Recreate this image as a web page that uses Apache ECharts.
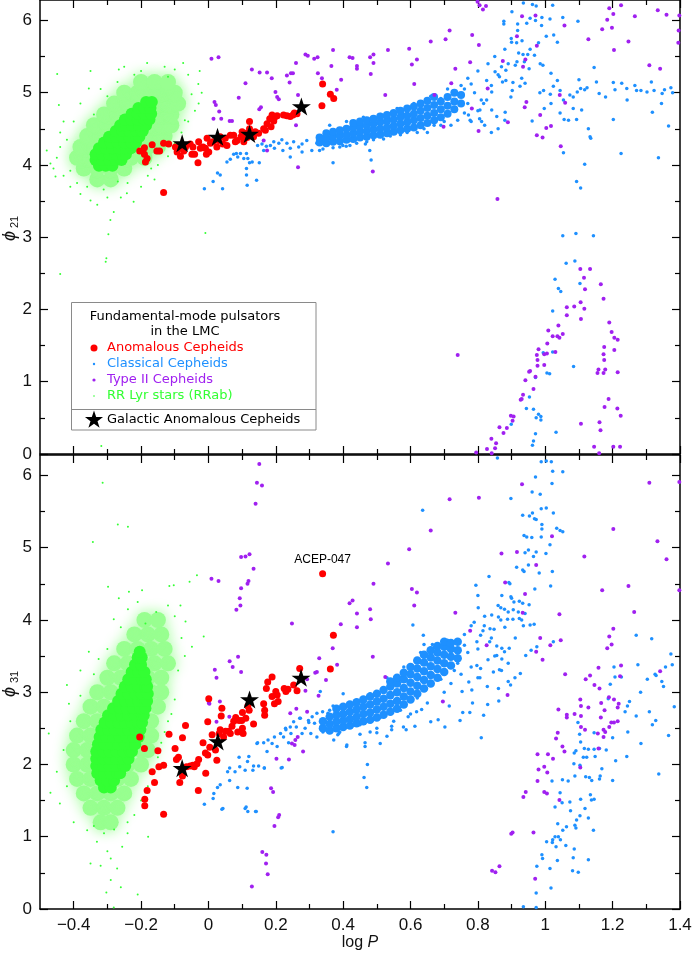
<!DOCTYPE html>
<html>
<head>
    <meta charset="utf-8">
    <script src="https://cdn.jsdelivr.net/npm/echarts@6/dist/echarts.min.js"></script>
    <style>html,body{margin:0;padding:0;background:#fff;}</style>
</head>
<body>
<div id="main" style="width:692px;height:953px;"></div>
<script type="text/javascript">
// tick positions
var xMajor = [-0.4, -0.2, 0, 0.2, 0.4, 0.6, 0.8, 1, 1.2, 1.4];
var xMinor = [-0.3, -0.1, 0.1, 0.3, 0.5, 0.7, 0.9, 1.1, 1.3];
var yMajor = [0, 1, 2, 3, 4, 5, 6];
var yMinor = [0.5, 1.5, 2.5, 3.5, 4.5, 5.5];

// ---------- upper panel: phi21 ----------
// RR Lyr (RRab): dense core, crowded fringe, scattered stars
var rrTopCore = [
 [-0.325,3.99],[-0.305,3.99],[-0.285,3.99],
 [-0.335,4.07],[-0.315,4.07],[-0.295,4.07],[-0.275,4.07],[-0.258,4.07],
 [-0.335,4.15],[-0.315,4.15],[-0.295,4.15],[-0.275,4.15],[-0.255,4.15],[-0.245,4.15],
 [-0.325,4.23],[-0.305,4.23],[-0.285,4.23],[-0.265,4.23],[-0.245,4.23],[-0.23,4.23],
 [-0.31,4.31],[-0.29,4.31],[-0.27,4.31],[-0.25,4.31],[-0.23,4.31],[-0.215,4.31],
 [-0.295,4.39],[-0.275,4.39],[-0.255,4.39],[-0.235,4.39],[-0.215,4.39],[-0.205,4.39],
 [-0.275,4.47],[-0.255,4.47],[-0.235,4.47],[-0.215,4.47],[-0.2,4.47],[-0.195,4.47],
 [-0.262,4.55],[-0.245,4.55],[-0.225,4.55],[-0.205,4.55],[-0.185,4.55],
 [-0.248,4.63],[-0.23,4.63],[-0.21,4.63],[-0.19,4.63],[-0.175,4.63],
 [-0.228,4.71],[-0.21,4.71],[-0.19,4.71],[-0.17,4.71],
 [-0.208,4.79],[-0.19,4.79],[-0.172,4.79],
 [-0.185,4.87],[-0.168,4.87]
];
var rrTopHalo = [
 [-0.33,3.8],[-0.29,3.8],
 [-0.37,3.95],[-0.33,3.95],[-0.29,3.95],[-0.25,3.95],
 [-0.39,4.1],[-0.35,4.1],[-0.31,4.1],[-0.27,4.1],[-0.23,4.1],[-0.19,4.1],
 [-0.38,4.25],[-0.34,4.25],[-0.30,4.25],[-0.26,4.25],[-0.22,4.25],[-0.18,4.25],[-0.15,4.25],
 [-0.36,4.4],[-0.32,4.4],[-0.28,4.4],[-0.24,4.4],[-0.20,4.4],[-0.16,4.4],[-0.13,4.4],
 [-0.34,4.55],[-0.30,4.55],[-0.26,4.55],[-0.22,4.55],[-0.18,4.55],[-0.14,4.55],[-0.11,4.55],
 [-0.31,4.7],[-0.27,4.7],[-0.23,4.7],[-0.19,4.7],[-0.15,4.7],[-0.11,4.7],
 [-0.28,4.85],[-0.24,4.85],[-0.20,4.85],[-0.16,4.85],[-0.12,4.85],[-0.09,4.85],
 [-0.25,5.0],[-0.21,5.0],[-0.17,5.0],[-0.13,5.0],[-0.10,5.0],
 [-0.20,5.15],[-0.16,5.15],[-0.12,5.15]
];
var rrTopSparse = [
 [-0.449,5.26],[-0.444,4.83],[-0.355,5.06],[-0.266,5.32],[-0.026,5.30],[-0.029,4.85],[-0.182,5.41],[-0.075,5.41],
 [-0.469,4.02],[-0.454,3.84],[-0.242,3.61],[-0.281,3.35],[-0.291,3.24],[-0.350,3.51],[-0.222,3.49],[-0.311,3.66],
 [-0.269,3.77],[-0.45,4.1],[-0.44,4.25],[-0.43,3.85],[-0.46,3.95],[-0.41,3.7],[-0.38,3.6],[-0.33,3.45],
 [-0.30,3.55],[-0.2,3.7],[-0.18,3.85],[-0.15,4.0],[-0.12,4.12],[-0.1,4.3],[-0.06,4.6],[-0.04,4.75],
 [-0.02,5.0],[-0.03,5.12],[-0.06,5.25],[-0.1,5.32],[-0.13,5.36],[-0.22,5.25],[-0.27,5.15],[-0.32,5.05],
 [-0.38,4.85],[-0.4,4.6],[-0.44,4.45],[-0.48,4.2],[-0.35,5.3],[-0.25,5.36],[-0.44,2.49],[-0.305,2.66],
 [-0.303,2.71],[-0.297,3.04],[-0.009,3.06],[-0.318,0.11],[-0.39,3.75],[-0.26,3.55],[-0.16,3.8],[-0.08,4.45],
 [-0.42,4.35],[-0.41,3.92],[-0.36,3.7],[-0.34,4.7],[-0.3,4.95],[-0.24,3.75],[-0.17,3.95],[-0.07,4.62],
 [-0.05,4.98],[-0.12,5.22],[-0.2,5.3],[-0.43,4.6]
];
// Classical Cepheids: dense band, then scattered stars
var cepTopCore = [
 [0.33,4.31],[0.33,4.38],
 [0.35,4.30],[0.35,4.37],[0.35,4.44],
 [0.37,4.32],[0.37,4.39],[0.37,4.46],
 [0.39,4.33],[0.39,4.41],[0.39,4.48],
 [0.41,4.35],[0.41,4.42],[0.41,4.50],
 [0.43,4.36],[0.43,4.44],[0.43,4.52],[0.43,4.58],
 [0.45,4.38],[0.45,4.46],[0.45,4.54],[0.45,4.60],
 [0.47,4.39],[0.47,4.47],[0.47,4.55],[0.47,4.62],
 [0.49,4.41],[0.49,4.49],[0.49,4.57],[0.49,4.64],
 [0.51,4.42],[0.51,4.50],[0.51,4.59],[0.51,4.67],
 [0.53,4.44],[0.53,4.52],[0.53,4.61],[0.53,4.69],
 [0.55,4.46],[0.55,4.54],[0.55,4.63],[0.55,4.72],
 [0.57,4.48],[0.57,4.57],[0.57,4.66],[0.57,4.75],
 [0.59,4.50],[0.59,4.59],[0.59,4.68],[0.59,4.78],
 [0.61,4.52],[0.61,4.62],[0.61,4.71],[0.61,4.81],
 [0.63,4.55],[0.63,4.65],[0.63,4.75],[0.63,4.85],
 [0.65,4.58],[0.65,4.68],[0.65,4.79],[0.65,4.89],
 [0.67,4.62],[0.67,4.72],[0.67,4.83],[0.67,4.94],
 [0.69,4.66],[0.69,4.77],[0.69,4.88],
 [0.71,4.71],[0.71,4.82],[0.71,4.94],
 [0.73,4.77],[0.73,4.88],[0.73,5.00],
 [0.75,4.85],[0.75,4.97]
];
var cepTop = [
 [-0.012,3.67],[0.014,3.77],[0.027,3.89],[0.035,3.86],[0.042,3.67],[0.055,4.04],[0.065,4.08],[0.075,4.15],
 [0.083,4.16],[0.087,4.11],[0.095,4.16],[0.105,4.09],[0.113,4.16],[0.117,4.09],[0.122,4.03],[0.113,3.95],
 [0.113,3.86],[0.115,3.72],[0.130,4.04],[0.143,3.79],[0.151,4.03],[0.146,4.27],[0.164,4.20],[0.172,4.26],
 [0.184,4.27],[0.196,4.23],[0.209,4.30],[0.221,4.20],[0.233,4.30],[0.243,4.23],[0.253,4.32],[0.268,4.25],
 [0.278,4.29],[0.292,4.34],[0.307,4.20],[0.322,4.30],[0.370,4.03],[0.332,4.37],[0.347,4.41],[0.362,4.39],
 [0.243,4.11],[0.218,4.35],[0.278,4.18],[0.194,4.32],[0.159,4.29],[0.483,4.07],[0.479,4.20],[0.409,4.26],
 [0.399,4.27],[0.466,4.29],
 [0.34,4.22],[0.36,4.55],[0.39,4.25],[0.41,4.6],[0.44,4.3],[0.46,4.66],[0.49,4.35],[0.51,4.7],
 [0.54,4.4],[0.56,4.78],[0.59,4.45],[0.61,4.85],[0.64,4.5],[0.66,4.95],[0.69,4.55],[0.71,5.05],
 [0.74,4.62],[0.75,5.1],[0.77,4.85],[0.77,5.2],[0.79,5.0],[0.80,5.3],[0.81,4.9],[0.83,5.4],
 [0.84,5.1],[0.85,5.5],[0.86,5.25],[0.88,5.6],[0.89,5.4],[0.9,5.7],[0.76,4.72],[0.78,4.6],
 [0.8,4.75],[0.82,4.55],[0.84,4.45],[0.86,4.5],[0.88,4.62],[0.72,4.55],[0.7,4.6],[0.67,4.55],
 [0.65,4.45],[0.62,4.45],[0.57,4.42],[0.52,4.36],[0.47,4.32],[0.42,4.27],[0.37,4.24],[0.33,4.2],
 [0.74,4.98],[0.76,5.05],[0.75,4.88],[0.73,4.75],[0.69,4.92],[0.78,5.12],[0.63,4.58],[0.58,4.7],
 [0.901,6.12],[0.877,5.99],[0.877,5.95],[0.918,5.95],[0.935,6.24],[0.962,6.22],[0.973,6.20],[0.971,6.00],
 [0.990,6.04],[1.022,6.21],[1.014,6.02],[1.052,6.04],[0.989,5.93],[1.097,5.99],[0.918,5.86],[0.945,5.96],
 [0.955,6.03],[0.931,5.72],[0.915,5.69],[0.899,5.75],[1.003,5.78],[1.025,5.80],[1.036,5.70],[0.980,5.69],
 [0.955,5.60],[0.934,5.53],[0.921,5.55],[0.916,5.43],[0.948,5.53],[0.968,5.52],[0.938,5.43],[0.952,5.33],
 [0.985,5.40],[0.993,5.38],[1.017,5.27],[1.145,5.35],[1.036,5.17],[1.024,5.09],[1.044,5.03],[1.073,4.97],
 [1.083,4.94],[1.095,5.01],[1.100,5.18],[1.105,5.06],[1.117,5.04],[1.124,5.07],[1.152,5.15],[1.160,4.99],
 [1.179,4.94],[1.202,5.14],[1.207,5.04],[1.227,5.13],[1.242,5.06],[1.243,4.90],[1.266,5.10],[1.271,5.03],
 [1.284,5.03],[1.302,5.01],[1.315,5.15],[1.323,5.03],[1.347,4.99],[1.354,5.04],[1.373,5.07],[1.378,5.00],
 [1.345,4.85],[1.318,4.73],[1.366,4.54],[1.336,4.10],[1.225,4.16],[1.202,4.63],[1.133,4.39],[1.135,4.37],
 [1.128,4.50],[1.108,4.76],[1.093,4.63],[1.069,4.62],[1.056,4.63],[1.044,4.72],[1.017,4.85],[0.997,4.78],
 [0.984,5.00],[0.961,4.61],[1.015,4.98],[0.995,5.03],[1.054,4.17],[1.117,4.01],[1.093,3.77],[1.105,3.68],
 [1.054,4.90],[1.083,4.78],
 [0.856,4.67],[0.841,4.76],[0.881,4.73],[0.898,4.94],[0.902,5.03],[0.873,5.15],[0.883,5.17],[0.841,5.01],
 [0.826,4.90],[0.806,4.76],[0.805,4.64],[0.817,4.85],[0.772,4.69],[0.777,4.62],[0.826,5.17],[0.930,5.20],
 [0.940,5.13],[0.925,5.09],[0.904,5.14],[0.864,5.22],[0.851,5.29],[0.870,5.36],[0.883,5.31],[0.911,5.38],
 [0.811,4.60],
 [1.052,3.02],[1.091,3.05],[1.143,3.02],[1.062,2.64],[1.088,2.67],[1.029,2.42],[1.039,2.29],[1.046,2.25],
 [1.103,2.36],[1.022,1.98],[0.994,1.40],[1.022,1.41],[1.005,1.12],[1.013,1.11],[0.971,1.06],[0.953,0.79],
 [0.944,0.63],[0.965,0.62],[0.973,0.50],[0.980,0.55],[0.987,0.52],[0.987,0.47],[1.032,0.30],[0.971,0.28],
 [0.965,0.18],[0.962,0.12],[0.899,0.41],[1.084,1.21]
];
// Type II Cepheids
var t2Top = [
 [0.009,5.47],[0.030,5.49],[0.018,4.87],[0.022,4.83],[0.032,4.74],[0.015,4.64],[0.038,4.64],[0.063,4.61],
 [0.070,4.61],[0.090,4.93],[0.110,5.13],[0.129,5.32],[0.152,5.28],[0.174,5.28],[0.188,5.20],[0.151,4.77],
 [0.156,4.80],[0.199,5.01],[0.204,4.94],[0.209,4.91],[0.233,5.24],[0.241,5.14],[0.245,5.27],[0.251,5.27],
 [0.260,5.41],[0.288,5.53],[0.295,5.51],[0.314,5.47],[0.324,5.49],[0.325,5.27],[0.337,5.20],[0.365,5.37],
 [0.370,5.59],[0.381,5.04],[0.394,5.18],[0.419,5.49],[0.266,4.97],[0.260,4.55],[0.266,3.97],[0.174,4.20],
 [0.164,4.34],
 [0.428,5.48],[0.441,5.37],[0.441,5.33],[0.480,5.49],[0.490,5.53],[0.490,5.41],[0.482,5.26],[0.533,5.59],
 [0.525,4.97],[0.488,3.91],[0.596,5.61],[0.604,5.39],[0.619,5.46],[0.611,5.12],[0.660,5.71],[0.704,5.74],
 [0.716,5.86],[0.733,5.33],[0.721,5.13],[0.671,4.97],[0.698,4.53],[0.777,5.42],[0.783,5.80],[0.803,5.66],
 [0.799,6.26],[0.805,6.21],[0.815,6.15],[0.824,6.20],[0.782,4.78],[0.802,4.47],[0.858,3.53],[0.889,4.59],
 [0.829,5.06],[0.874,5.44],[0.916,5.78],[0.931,6.06],[0.971,6.07],[0.975,5.65],[0.934,5.36],[0.941,5.46],
 [0.944,4.87],[0.939,4.80],[0.985,4.69],[1.003,4.51],[1.017,4.54],[0.975,4.41],[0.992,4.38],[1.046,4.26],
 [1.059,4.86],[1.043,4.97],[1.057,5.93],[1.128,5.74],[1.169,5.88],[1.184,6.01],[1.190,6.17],[1.202,6.09],
 [1.198,5.90],[1.225,6.21],[1.204,5.59],[1.247,5.71],[1.266,6.06],[1.309,5.38],[1.341,5.33],[1.334,6.14],
 [1.360,6.08],[1.398,6.07],[1.396,5.86],[1.395,5.69],
 [0.740,1.37],[1.104,2.56],[1.133,2.56],[1.115,2.44],[1.118,2.28],[1.165,2.35],[1.173,2.15],[1.064,2.03],
 [1.086,2.04],[1.105,2.10],[1.116,2.01],[1.106,1.87],[1.064,1.92],[1.039,1.78],[1.009,1.71],[1.022,1.63],
 [1.036,1.63],[1.042,1.61],[1.052,1.66],[1.006,1.53],[0.980,1.45],[0.975,1.37],[0.977,1.30],[0.997,1.38],
 [1.005,1.39],[1.030,1.41],[0.977,1.22],[0.997,1.23],[0.955,1.15],[0.952,1.14],[0.971,1.07],[0.941,1.02],
 [0.965,0.90],[0.934,0.82],[0.930,0.76],[0.927,0.75],[0.898,0.53],[0.906,0.52],[0.903,0.46],[0.886,0.36],
 [0.864,0.37],[0.876,0.29],[0.840,0.21],[0.854,0.15],[0.827,0.07],[0.841,0.01],[0.851,0.08],[0.795,0.02],
 [1.190,1.82],[1.197,1.69],[1.205,1.61],[1.215,1.58],[1.175,1.48],[1.205,1.44],[1.173,1.38],[1.175,1.30],
 [1.158,1.17],[1.155,1.12],[1.178,1.17],[1.173,1.12],[1.215,1.13],[1.188,0.76],[1.176,0.65],[1.214,0.63],
 [1.224,0.53],[1.161,0.44],[1.164,0.33],[1.106,0.42],[1.145,0.10],[1.160,0.01],[1.202,0.10],[1.222,0.10]
];
// Anomalous Cepheids (LMC)
var acepTop = [
 [-0.204,4.195],[-0.190,4.24],[-0.190,4.15],[-0.182,4.09],[-0.187,4.04],[-0.167,4.28],[-0.153,4.195],[-0.145,4.195],
 [-0.133,4.30],[-0.118,4.29],[-0.133,3.62],[-0.098,4.25],[-0.093,4.18],[-0.083,4.23],[-0.083,4.12],[-0.073,4.195],
 [-0.068,4.25],[-0.054,4.29],[-0.046,4.25],[-0.049,4.15],[-0.041,4.15],[-0.029,4.32],[-0.031,4.03],[-0.024,4.23],
 [-0.016,4.25],[-0.009,4.23],[-0.006,4.15],[0.001,4.18],[-0.004,4.37],[0.006,4.30],[0.013,4.32],[0.025,4.25],
 [0.030,4.34],[0.035,4.39],[0.043,4.29],[0.050,4.37],[0.055,4.27],[0.065,4.41],[0.075,4.41],[0.080,4.32],
 [0.085,4.34],[0.097,4.39],[0.100,4.46],[0.105,4.32],[0.110,4.44],[0.115,4.38],[0.122,4.60],[0.122,4.50],
 [0.134,4.39],[0.139,4.46],[0.149,4.44],[0.164,4.50],[0.169,4.48],[0.174,4.57],[0.182,4.64],[0.186,4.53],
 [0.189,4.69],[0.194,4.61],[0.199,4.67],[0.204,4.68],[0.223,4.69],[0.233,4.68],[0.243,4.67],[0.251,4.69],
 [0.255,4.72],[0.263,4.71],[0.337,4.82],[0.339,5.12],[0.362,4.98],[0.372,4.92]
];
// Galactic Anomalous Cepheids
var galTop = [[-0.078,4.30],[0.027,4.39],[0.122,4.43],[0.276,4.81]];

// ---------- lower panel: phi31 ----------
var rrBottomCore = [
 [-0.31,1.68],[-0.29,1.68],
 [-0.32,1.78],[-0.30,1.78],[-0.28,1.78],
 [-0.33,1.88],[-0.31,1.88],[-0.29,1.88],[-0.27,1.88],[-0.262,1.88],
 [-0.333,1.98],[-0.313,1.98],[-0.293,1.98],[-0.273,1.98],[-0.253,1.98],[-0.247,1.98],
 [-0.333,2.08],[-0.313,2.08],[-0.293,2.08],[-0.273,2.08],[-0.253,2.08],[-0.237,2.08],
 [-0.333,2.18],[-0.313,2.18],[-0.293,2.18],[-0.273,2.18],[-0.253,2.18],[-0.233,2.18],[-0.227,2.18],
 [-0.328,2.28],[-0.308,2.28],[-0.288,2.28],[-0.268,2.28],[-0.248,2.28],[-0.228,2.28],[-0.217,2.28],
 [-0.323,2.38],[-0.303,2.38],[-0.283,2.38],[-0.263,2.38],[-0.243,2.38],[-0.223,2.38],[-0.207,2.38],
 [-0.318,2.48],[-0.298,2.48],[-0.278,2.48],[-0.258,2.48],[-0.238,2.48],[-0.218,2.48],[-0.202,2.48],
 [-0.308,2.58],[-0.288,2.58],[-0.268,2.58],[-0.248,2.58],[-0.228,2.58],[-0.208,2.58],[-0.197,2.58],
 [-0.298,2.68],[-0.278,2.68],[-0.258,2.68],[-0.238,2.68],[-0.218,2.68],[-0.198,2.68],[-0.192,2.68],
 [-0.283,2.78],[-0.263,2.78],[-0.243,2.78],[-0.223,2.78],[-0.203,2.78],[-0.187,2.78],
 [-0.268,2.88],[-0.248,2.88],[-0.228,2.88],[-0.208,2.88],[-0.188,2.88],[-0.182,2.88],
 [-0.258,2.98],[-0.238,2.98],[-0.218,2.98],[-0.198,2.98],[-0.18,2.98],
 [-0.248,3.08],[-0.228,3.08],[-0.208,3.08],[-0.188,3.08],[-0.182,3.08],
 [-0.238,3.18],[-0.218,3.18],[-0.198,3.18],[-0.186,3.18],
 [-0.228,3.28],[-0.208,3.28],[-0.19,3.28],
 [-0.218,3.38],[-0.2,3.38],
 [-0.21,3.48],[-0.198,3.48],
 [-0.204,3.56]
];
var rrBottomHalo = [
 [-0.32,1.2],[-0.29,1.2],
 [-0.35,1.4],[-0.31,1.4],[-0.27,1.4],
 [-0.37,1.6],[-0.33,1.6],[-0.29,1.6],[-0.25,1.6],
 [-0.39,1.8],[-0.35,1.8],[-0.31,1.8],[-0.27,1.8],[-0.23,1.8],
 [-0.40,2.0],[-0.36,2.0],[-0.32,2.0],[-0.28,2.0],[-0.24,2.0],[-0.20,2.0],
 [-0.40,2.2],[-0.36,2.2],[-0.32,2.2],[-0.28,2.2],[-0.24,2.2],[-0.20,2.2],[-0.18,2.2],
 [-0.39,2.4],[-0.35,2.4],[-0.31,2.4],[-0.27,2.4],[-0.23,2.4],[-0.19,2.4],[-0.17,2.4],
 [-0.37,2.6],[-0.33,2.6],[-0.29,2.6],[-0.25,2.6],[-0.21,2.6],[-0.17,2.6],
 [-0.35,2.8],[-0.31,2.8],[-0.27,2.8],[-0.23,2.8],[-0.19,2.8],[-0.15,2.8],
 [-0.33,3.0],[-0.29,3.0],[-0.25,3.0],[-0.21,3.0],[-0.17,3.0],[-0.14,3.0],
 [-0.30,3.2],[-0.26,3.2],[-0.22,3.2],[-0.18,3.2],[-0.14,3.2],
 [-0.28,3.4],[-0.24,3.4],[-0.20,3.4],[-0.16,3.4],[-0.12,3.4],
 [-0.25,3.6],[-0.21,3.6],[-0.17,3.6],[-0.13,3.6],
 [-0.22,3.8],[-0.18,3.8],[-0.14,3.8],
 [-0.19,4.0],[-0.15,4.0]
];
var rrBottomSparse = [
 [-0.469,1.61],[-0.441,1.46],[-0.35,0.63],[-0.303,0.23],[-0.281,0.02],[-0.21,0.2],[-0.331,0.93],[-0.256,0.86],
 [-0.179,1.0],[-0.414,2.84],[-0.474,2.43],[-0.36,1.09],[-0.271,0.56],[-0.314,5.90],[-0.343,5.08],[-0.269,5.32],
 [-0.239,5.29],[-0.298,4.46],[-0.266,4.30],[-0.236,4.39],[-0.197,4.41],[-0.116,4.47],[-0.103,4.48],[-0.056,4.53],
 [-0.034,4.62],[-0.014,3.77],[-0.355,3.56],[-0.326,3.46],[-0.239,4.15],[-0.281,4.01],[-0.049,3.63],[-0.068,3.98],
 [-0.083,4.20],[-0.155,4.11],[-0.187,3.95],[-0.31,1.05],[-0.28,1.1],[-0.3,0.8],[-0.29,0.4],[-0.26,0.3],
 [-0.32,0.6],[-0.24,1.2],[-0.43,2.2],[-0.45,1.9],[-0.42,3.1],[-0.38,3.3],[-0.09,3.3],[-0.1,2.9],
 [-0.12,2.6],[-0.14,2.3],[-0.16,1.9],[-0.2,1.5],[-0.22,1.3],[-0.4,1.2],[-0.08,3.75],[-0.12,4.2],
 [-0.42,1.7],[-0.41,2.6],[-0.38,2.95],[-0.34,3.25],[-0.3,3.6],[-0.26,3.9],[-0.21,4.25],[-0.1,4.05],
 [-0.07,3.5],[-0.11,2.7],[-0.13,2.45],[-0.15,2.1],[-0.18,1.7],[-0.24,1.05],[-0.34,1.15],[-0.29,0.7]
];
var cepBottomCore = [
 [0.34,2.50],[0.34,2.60],
 [0.36,2.47],[0.36,2.56],[0.36,2.66],
 [0.38,2.50],[0.38,2.59],[0.38,2.68],[0.38,2.77],
 [0.40,2.52],[0.40,2.61],[0.40,2.70],[0.40,2.80],
 [0.42,2.54],[0.42,2.63],[0.42,2.73],[0.42,2.83],
 [0.44,2.57],[0.44,2.66],[0.44,2.76],[0.44,2.86],
 [0.46,2.60],[0.46,2.70],[0.46,2.80],[0.46,2.90],
 [0.48,2.62],[0.48,2.72],[0.48,2.83],[0.48,2.94],
 [0.50,2.65],[0.50,2.76],[0.50,2.87],[0.50,2.98],
 [0.52,2.69],[0.52,2.80],[0.52,2.91],[0.52,3.03],
 [0.54,2.73],[0.54,2.84],[0.54,2.96],[0.54,3.08],[0.54,3.15],
 [0.56,2.77],[0.56,2.88],[0.56,3.00],[0.56,3.12],[0.56,3.20],
 [0.58,2.83],[0.58,2.94],[0.58,3.06],[0.58,3.18],[0.58,3.27],
 [0.60,2.90],[0.60,3.01],[0.60,3.13],[0.60,3.25],[0.60,3.35],
 [0.62,2.98],[0.62,3.09],[0.62,3.21],[0.62,3.33],[0.62,3.44],
 [0.64,3.05],[0.64,3.17],[0.64,3.29],[0.64,3.41],[0.64,3.52],
 [0.66,3.12],[0.66,3.24],[0.66,3.36],[0.66,3.48],[0.66,3.58],
 [0.68,3.20],[0.68,3.32],[0.68,3.44],[0.68,3.55],[0.68,3.64],
 [0.70,3.28],[0.70,3.40],[0.70,3.52],[0.70,3.63],[0.70,3.70],
 [0.72,3.37],[0.72,3.49],[0.72,3.60],[0.72,3.68],
 [0.74,3.47],[0.74,3.58],[0.74,3.70]
];
var cepBottom = [
 [-0.012,1.45],[0.016,1.60],[0.014,1.53],[0.043,1.39],[0.112,1.41],[0.117,1.35],[0.140,1.35],[0.115,1.67],
 [0.087,1.68],[0.063,1.78],[0.035,1.72],[0.027,1.68],[0.057,1.90],[0.063,1.95],[0.079,1.90],[0.093,1.97],
 [0.109,1.92],[0.116,2.04],[0.134,1.98],[0.149,1.98],[0.166,1.95],[0.216,1.95],[0.144,2.29],[0.164,2.30],
 [0.177,2.34],[0.189,2.29],[0.196,2.38],[0.214,2.43],[0.229,2.50],[0.243,2.52],[0.253,2.59],[0.273,2.64],
 [0.298,2.58],[0.308,2.66],[0.322,2.71],[0.339,2.73],[0.370,1.07],[0.372,2.34],[0.384,2.41],[0.091,2.10],
 [0.120,2.11],[0.146,2.30],[0.174,2.18],[0.204,2.25],[0.219,1.96],[0.223,2.38],[0.230,2.48],[0.238,2.30],
 [0.245,2.43],[0.261,2.52],[0.271,2.64],[0.278,2.43],[0.287,2.50],[0.297,2.61],[0.304,2.43],[0.315,2.57],
 [0.322,2.38],[0.334,2.52],[0.344,2.61],[0.355,2.71],[0.370,2.81],[0.387,2.43],[0.400,2.98],[0.410,2.25],
 [0.332,3.01],[0.040,1.38],[0.109,1.39],[0.142,1.35],[0.132,1.92],[0.166,1.95],
 [0.391,2.52],[0.411,2.27],[0.465,2.30],[0.465,2.25],[0.472,2.00],[0.462,1.82],[0.470,1.68],[0.480,2.45],
 [0.500,2.44],[0.510,2.29],[0.530,2.39],[0.544,2.48],[0.544,2.53],[0.579,2.52],[0.587,2.48],[0.613,2.53],
 [0.593,2.66],[0.618,2.73],[0.633,2.76],[0.660,2.59],[0.682,2.62],[0.702,2.52],[0.715,2.81],[0.747,2.61],
 [0.755,2.72],[0.776,2.72],[0.784,2.85],[0.810,2.37],[0.817,2.68],[0.829,2.83],[0.862,2.88],
 [0.935,0.03],[0.973,0.02],[0.973,0.22],[0.975,0.59],[0.990,0.75],[0.992,0.70],[1.004,0.93],[1.014,0.56],
 [1.017,0.29],[1.022,0.96],[1.021,0.92],[1.029,1.00],[1.039,1.00],[1.045,0.96],[1.032,0.86],[1.036,0.67],
 [1.061,0.88],[1.086,0.83],[1.083,0.71],[1.081,0.53],[1.098,0.51],[1.128,0.68],[1.037,1.18],[1.052,1.09],
 [1.063,1.14],[1.088,1.16],[1.091,1.12],[1.093,1.23],[1.103,1.29],[1.118,1.39],[1.128,1.26],[1.143,1.09],
 [1.105,1.52],[1.137,1.51],[1.145,1.52],[1.134,1.58],[1.075,1.36],[1.050,1.47],[1.029,1.41],[1.044,1.61],
 [1.073,1.48],[1.020,1.77],[1.051,1.79],[1.068,1.77],[1.088,1.84],[1.103,1.99],[1.120,1.83],[1.131,1.82],
 [1.138,1.78],[1.161,1.80],[1.163,1.84],[1.168,1.94],[1.200,1.78],[1.085,2.01],[1.086,2.16],[1.091,2.19],
 [1.105,2.31],[1.113,2.10],[1.123,2.10],[1.116,2.22],[1.128,2.21],[1.145,2.21],[1.148,2.11],[1.161,2.22],
 [1.181,2.20],[1.097,2.58],[1.102,2.42],[1.145,2.44],[1.245,2.45],[1.242,2.11],[1.209,2.05],[1.284,2.29],
 [1.337,1.87],[1.366,2.40],[1.383,2.80],[1.328,2.61],[1.318,2.55],[1.309,2.73],[1.270,2.67],[1.244,2.81],
 [1.237,2.73],[1.200,2.37],
 [0.858,6.24],[0.988,6.19],[1.003,6.20],[1.018,6.19],[1.022,6.06],[1.052,6.05],[0.971,5.98],[1.020,5.89],
 [0.961,5.77],[0.985,5.74],[0.898,5.68],[0.988,5.54],[1.003,5.55],[1.024,5.48],[0.933,5.45],[0.953,5.44],
 [0.962,5.48],[0.968,5.40],[0.973,5.39],[0.990,5.32],[0.990,5.26],[1.034,5.27],[1.044,5.24],[1.052,5.22],
 [0.937,5.17],[0.945,5.15],[0.960,5.14],[0.988,5.15],[1.014,5.04],[0.950,4.97],[0.940,4.93],[0.973,4.94],
 [1.002,4.92],[0.965,4.88],[0.915,4.73],[0.933,4.69],[0.937,4.67],[0.982,4.65],[1.021,4.67],[0.833,4.60],
 [0.895,4.50],[0.892,4.52],[0.794,4.48],[1.016,4.47],[0.969,4.43],[0.800,4.34],[0.871,4.34],[0.898,4.32],
 [0.907,4.25],[0.923,4.26],[0.933,4.23],[0.952,4.21],[0.868,4.17],[0.879,4.15],[0.801,4.17],[0.890,4.11],
 [0.905,4.14],[0.920,4.11],[0.940,4.09],[0.923,4.02],[0.930,4.00],[0.955,3.93],[0.935,3.92],[0.904,4.01],
 [0.888,4.01],[0.861,4.04],[0.868,4.00],[0.789,3.97],[0.841,4.07],[0.819,3.92],[0.836,3.88],[0.848,3.87],
 [0.815,3.85],[0.808,3.79],[0.797,3.70],[0.835,3.70],[0.856,3.64],[0.871,3.61],[0.893,3.61],[0.856,3.51],
 [0.879,3.56],[0.911,3.75],[0.942,3.51],[0.958,3.58],[0.975,3.63],[0.967,3.94],[1.024,3.70],[0.926,3.26],
 [0.797,3.37],[0.808,3.33],[0.846,3.28],[0.864,3.31],[0.871,3.46],[0.890,3.15],[0.897,3.10],[0.861,3.05],
 [0.828,3.08],[0.806,3.20],[0.773,3.14],[0.753,3.01],[0.782,3.03],[0.640,3.66],[0.607,3.93],[0.636,5.52],
 [0.665,3.66],[0.638,3.79],[0.950,4.76],
 [1.270,3.79],[1.316,3.74],[1.373,3.53],[1.377,3.38],[1.357,3.35],[1.326,3.25],[1.329,3.23],[1.346,3.15],
 [1.351,3.08],[1.275,3.38],[1.250,2.87],[1.204,3.35],[1.207,3.21],[1.226,3.21],[1.193,3.11],[1.283,3.00],
 [1.303,3.18],[1.187,2.91],
 [0.34,2.45],[0.36,2.75],[0.39,2.45],[0.42,2.85],[0.45,2.55],[0.48,2.98],[0.51,2.65],[0.54,3.08],
 [0.57,2.75],[0.60,3.3],[0.62,2.92],[0.66,3.5],[0.69,3.18],[0.73,3.7],[0.74,3.4],[0.76,3.8],
 [0.77,3.55],[0.78,3.92],[0.80,3.6],[0.82,4.05],[0.84,3.75],[0.86,4.2],[0.88,3.9],[0.90,4.3],
 [0.75,3.25],[0.78,3.35],[0.80,3.2],[0.83,3.45],[0.85,3.5],[0.87,3.3],[0.89,3.4],[0.91,3.2],
 [0.60,2.7],[0.65,2.85],[0.55,2.6],[0.50,2.5],[0.45,2.42],[0.70,3.0],[0.72,3.12],[0.63,3.55],
 [0.58,3.35],[0.53,3.2],[0.67,3.62],[0.71,3.72],[0.74,3.55],[0.76,3.65],[0.73,3.3],[0.66,3.1]
];
var t2Bottom = [
 [0.151,6.16],[0.144,5.90],[0.159,5.86],[0.140,5.61],[0.097,4.87],[0.110,4.88],[0.122,4.91],[0.134,4.71],
 [0.009,4.57],[0.030,4.54],[0.119,4.54],[0.116,4.50],[0.097,4.44],[0.093,4.30],[0.095,4.20],[0.083,4.14],
 [0.019,3.31],[0.024,3.20],[0.063,3.43],[0.072,3.35],[0.088,3.49],[0.097,3.28],[0.248,3.95],[0.317,3.27],
 [0.322,3.28],[0.349,3.17],[0.329,3.47],[0.369,3.61],[0.382,3.38],[0.372,3.80],[0.393,3.94],[0.419,4.23],
 [0.293,3.18],[0.327,2.95],[0.003,2.84],[0.288,3.02],
 [0.716,5.67],[0.803,5.69],[0.660,5.24],[0.596,4.98],[0.533,4.78],[0.490,4.50],[0.428,4.27],[0.441,4.09],
 [0.480,4.15],[0.482,4.01],[0.441,3.90],[0.604,4.43],[0.619,4.38],[0.611,4.20],[0.733,4.10],[0.488,3.49],
 [0.525,3.21],[0.931,5.88],[0.870,4.92],[0.916,4.94],[0.973,4.76],[0.881,4.52],[0.940,4.36],[0.933,4.10],
 [1.042,4.08],[0.985,3.75],[1.015,3.65],[1.046,3.72],[0.973,3.56],[0.992,3.45],[1.059,3.25],[1.020,5.16],
 [1.116,4.88],[1.202,5.26],[1.333,5.09],[1.360,4.84],[1.398,5.91],[1.309,5.90],[1.398,4.41],[1.169,4.41],
 [1.247,4.47],[1.264,4.11],[1.202,3.88],[1.190,3.77],[1.197,3.66],[1.184,3.61],[1.158,3.34],[1.133,3.23],
 [1.120,3.18],[1.146,3.10],[1.161,3.05],[1.225,3.37],[1.222,3.22],[1.341,3.29],[1.104,2.90],[1.166,2.85],
 [1.189,2.93],[1.204,2.90],[1.218,2.84],[0.696,2.87],[0.888,2.96],[0.826,3.65],[0.777,3.85],
 [1.176,2.75],[1.128,2.79],[1.106,2.81],[1.106,2.67],[1.087,2.70],[1.064,2.69],[1.064,2.65],[1.039,2.76],
 [1.165,2.65],[1.196,2.58],[1.204,2.58],[1.215,2.60],[1.215,2.79],[1.190,2.52],[1.173,2.48],[1.178,2.45],
 [1.173,2.38],[1.156,2.43],[1.158,2.22],[1.118,2.48],[1.106,2.52],[1.037,2.44],[1.032,2.36],[1.051,2.25],
 [1.057,2.18],[0.977,2.14],[1.008,2.14],[1.023,2.08],[0.997,1.97],[0.980,1.93],[1.006,1.89],[0.977,1.77],
 [0.942,1.62],[0.935,1.55],[0.997,1.62],[1.005,1.60],[1.042,1.51],[0.965,1.06],[0.903,1.06],[0.899,1.04],
 [0.864,0.59],[0.852,0.51],[0.842,0.53],[0.970,0.42],[1.104,1.96],
 [0.001,2.85],[0.034,2.87],[0.034,2.67],[0.062,2.66],[0.024,2.59],[0.243,2.71],[0.261,2.77],[0.293,2.73],
 [0.248,2.29],[0.256,2.27],[0.258,2.34],[0.265,2.38],[0.202,2.08],[0.239,2.07],[0.281,2.18],[0.186,1.67],
 [0.192,1.62],[0.210,1.30],[0.207,1.27],[0.196,1.15],[0.160,0.79],[0.172,0.75],[0.171,0.63],[0.176,0.48],
 [0.129,0.31]
];
var acepBottom = [
 [0.371,3.79],[0.362,3.32],[0.271,3.33],[0.189,3.21],[0.176,3.14],[0.172,3.05],[0.200,3.01],[0.204,2.96],
 [0.189,2.94],[0.196,2.84],[0.207,2.87],[0.225,3.05],[0.230,3.01],[0.236,3.04],[0.253,3.10],[0.263,3.02],
 [0.164,2.84],[0.167,2.75],[0.167,2.68],[0.134,2.56],[0.117,2.81],[0.121,2.75],[0.101,2.72],[0.111,2.64],
 [0.099,2.61],[0.081,2.65],[0.091,2.61],[0.075,2.60],[0.070,2.53],[0.101,2.50],[0.103,2.43],[0.087,2.45],
 [0.065,2.43],[0.060,2.46],[0.051,2.46],[0.035,2.48],[0.032,2.43],[0.045,2.38],[0.038,2.67],[0.040,2.78],
 [0.001,2.91],[-0.002,2.59],[0.011,2.41],[-0.016,2.30],[0.004,2.24],[0.021,2.20],[0.025,2.06],[-0.002,2.13],
 [-0.009,2.16],[-0.029,2.07],[-0.034,2.01],[-0.042,1.97],[-0.046,1.99],[-0.054,1.98],[-0.065,1.97],[-0.089,2.10],
 [-0.095,2.07],[-0.099,2.22],[-0.077,2.37],[-0.068,2.54],[-0.117,2.42],[-0.133,1.99],[-0.147,1.97],[-0.150,2.19],
 [-0.167,1.90],[-0.160,1.75],[-0.182,1.64],[-0.189,1.52],[-0.189,1.43],[-0.133,1.31],[-0.085,1.75],[-0.030,1.64],
 [-0.008,1.88],[-0.190,2.22],[-0.204,2.38],[-0.077,1.84]
];
var acep047 = [[0.339, 4.64]];
var galBottom = [[-0.078,1.95],[0.028,2.32],[0.122,2.90],[0.275,3.20]];

var C_RR = '#33ff33', C_RR_FRINGE = '#98ff90', C_CEP = '#1e90ff', C_T2 = '#a020f0', C_ACEP = '#ff0000';
var STAR = 'path://M50,0L61.2,34.5L97.6,34.5L68.2,55.9L79.4,90.5L50,69.1L20.6,90.5L31.8,55.9L2.4,34.5L38.8,34.5Z';
var FONT = 'Liberation Sans';

function fmtX(v) {
    var r = Math.round(v * 10) / 10;
    return r < 0 ? '\u2212' + (-r) : String(r);
}

function xAxes(g) {
    var line = {color: '#000', width: 1.5};
    function ax(pos, vals, len, major) {
        return {
            gridIndex: g, type: 'value', min: -0.5, max: 1.4, interval: 0.1, position: pos,
            splitLine: {show: false},
            axisLine: {show: major, onZero: false, lineStyle: line},
            axisTick: {show: true, inside: true, length: len, customValues: vals, lineStyle: {color: '#000', width: 1.2}},
            axisLabel: {show: major && pos === 'bottom' && g === 1, customValues: xMajor, formatter: fmtX,
                        margin: 8, fontSize: 17, fontFamily: FONT, color: '#111'},
            name: (major && pos === 'bottom' && g === 1) ? '{a|log }{b|P}' : '',
            nameLocation: 'middle', nameGap: 25,
            nameTextStyle: {rich: {a: {fontSize: 16, fontFamily: FONT, color: '#111'},
                                   b: {fontSize: 16, fontFamily: FONT, fontStyle: 'italic', color: '#111'}}}
        };
    }
    return [ax('bottom', xMajor, 8, true), ax('bottom', xMinor, 5, false),
            ax('top', xMajor, 8, true), ax('top', xMinor, 5, false)];
}

function yAxes(g) {
    var line = {color: '#000', width: 1.5};
    function ax(pos, vals, len, major) {
        return {
            gridIndex: g, type: 'value', min: 0, max: 2 * Math.PI, interval: 0.5, position: pos,
            splitLine: {show: false},
            axisLine: {show: major, onZero: false, lineStyle: line},
            axisTick: {show: true, inside: true, length: len, customValues: vals, lineStyle: {color: '#000', width: 1.2}},
            axisLabel: {show: major && pos === 'left', customValues: yMajor, margin: 8,
                        fontSize: 17, fontFamily: FONT, color: '#111'}
        };
    }
    return [ax('left', yMajor, 8, true), ax('left', yMinor, 5, false),
            ax('right', yMajor, 8, true), ax('right', yMinor, 5, false)];
}

function sc(data, g, size, color, opacity, symbol) {
    return {
        type: 'scatter', xAxisIndex: g * 4, yAxisIndex: g * 4, data: data,
        symbol: symbol || 'circle', symbolSize: size, symbolKeepAspect: true,
        itemStyle: {color: color, opacity: opacity == null ? 1 : opacity},
        silent: true, animation: false
    };
}
// pale green fill for the crowded fringe of the RR Lyr clouds
function fringe(data, g) {
    var s = sc(data, g, 16, C_RR_FRINGE);
    s.itemStyle.shadowBlur = 14;
    s.itemStyle.shadowColor = C_RR_FRINGE;
    return s;
}

var labelSeries = sc(acep047, 1, 7, C_ACEP);
labelSeries.label = {show: true, formatter: 'ACEP-047', position: 'top', distance: 5,
                     fontSize: 12, fontFamily: FONT, color: '#000'};

var series = [
    fringe(rrTopHalo, 0), sc(rrTopSparse, 0, 2, C_RR), sc(rrTopCore, 0, 12, C_RR),
    sc(cepTop, 0, 3.5, C_CEP), sc(cepTopCore, 0, 8, C_CEP),
    sc(t2Top, 0, 4, C_T2), sc(acepTop, 0, 7, C_ACEP), sc(galTop, 0, 19, '#000', 1, STAR),
    fringe(rrBottomHalo, 1), sc(rrBottomSparse, 1, 2, C_RR), sc(rrBottomCore, 1, 12, C_RR),
    sc(cepBottom, 1, 3.5, C_CEP), sc(cepBottomCore, 1, 8.5, C_CEP),
    sc(t2Bottom, 1, 4, C_T2), sc(acepBottom, 1, 7, C_ACEP), labelSeries, sc(galBottom, 1, 19, '#000', 1, STAR)
];

// legend star glyph
function starPoints(cx, cy, R, r) {
    var pts = [];
    for (var i = 0; i < 10; i++) {
        var a = -Math.PI / 2 + i * Math.PI / 5, rad = i % 2 ? r : R;
        pts.push([cx + rad * Math.cos(a), cy + rad * Math.sin(a)]);
    }
    return pts;
}

var LF = 'DejaVu Sans';
function legText(x, y, s, color, align) {
    return {type: 'text', x: x, y: y, z: 101,
            style: {text: s, fill: color, font: '13px "' + LF + '"', align: align || 'left', verticalAlign: 'middle'}};
}
var graphics = [
    {type: 'rect', z: 100, shape: {x: 71.5, y: 302.5, width: 244.5, height: 127.5},
     style: {fill: '#fff', stroke: '#8a8a8a', lineWidth: 1}},
    {type: 'line', z: 101, shape: {x1: 71.5, y1: 409.5, x2: 316, y2: 409.5}, style: {stroke: '#8a8a8a', lineWidth: 1}},
    legText(185, 317, 'Fundamental-mode pulsators', '#000', 'center'),
    legText(185, 332, 'in the LMC', '#000', 'center'),
    {type: 'circle', z: 101, shape: {cx: 94, cy: 348, r: 3.5}, style: {fill: C_ACEP}},
    legText(107, 348, 'Anomalous Cepheids', C_ACEP),
    {type: 'circle', z: 101, shape: {cx: 94, cy: 364, r: 1.2}, style: {fill: C_CEP}},
    legText(107, 364, 'Classical Cepheids', C_CEP),
    {type: 'circle', z: 101, shape: {cx: 94, cy: 380, r: 1.6}, style: {fill: C_T2}},
    legText(107, 380, 'Type II Cepheids', C_T2),
    {type: 'circle', z: 101, shape: {cx: 94, cy: 396, r: 0.8}, style: {fill: C_RR}},
    legText(107, 396, 'RR Lyr stars (RRab)', C_RR),
    {type: 'polygon', z: 101, shape: {points: starPoints(94, 420, 9.5, 3.7)}, style: {fill: '#000'}},
    legText(107, 420, 'Galactic Anomalous Cepheids', '#000'),
    // axis titles phi21 / phi31
    {type: 'text', x: 10, y: 236, rotation: Math.PI / 2, z: 50,
     style: {text: '\u03d5', font: 'italic 18px "' + FONT + '"', fill: '#111', align: 'center', verticalAlign: 'middle'}},
    {type: 'text', x: 15, y: 222, rotation: Math.PI / 2, z: 50,
     style: {text: '21', font: '11px "' + FONT + '"', fill: '#111', align: 'center', verticalAlign: 'middle'}},
    {type: 'text', x: 10, y: 692, rotation: Math.PI / 2, z: 50,
     style: {text: '\u03d5', font: 'italic 18px "' + FONT + '"', fill: '#111', align: 'center', verticalAlign: 'middle'}},
    {type: 'text', x: 15, y: 677, rotation: Math.PI / 2, z: 50,
     style: {text: '31', font: '11px "' + FONT + '"', fill: '#111', align: 'center', verticalAlign: 'middle'}}
];

var myChart = echarts.init(document.getElementById('main'), null, {renderer: 'canvas'});
myChart.setOption({
    animation: false,
    backgroundColor: '#fff',
    grid: [
        {left: 40, right: 12, top: 0, height: 454, containLabel: false, outerBoundsMode: 'none'},
        {left: 40, right: 12, top: 455, height: 454, containLabel: false, outerBoundsMode: 'none'}
    ],
    xAxis: xAxes(0).concat(xAxes(1)),
    yAxis: yAxes(0).concat(yAxes(1)),
    series: series,
    graphic: graphics
});
</script>
</body>
</html>
